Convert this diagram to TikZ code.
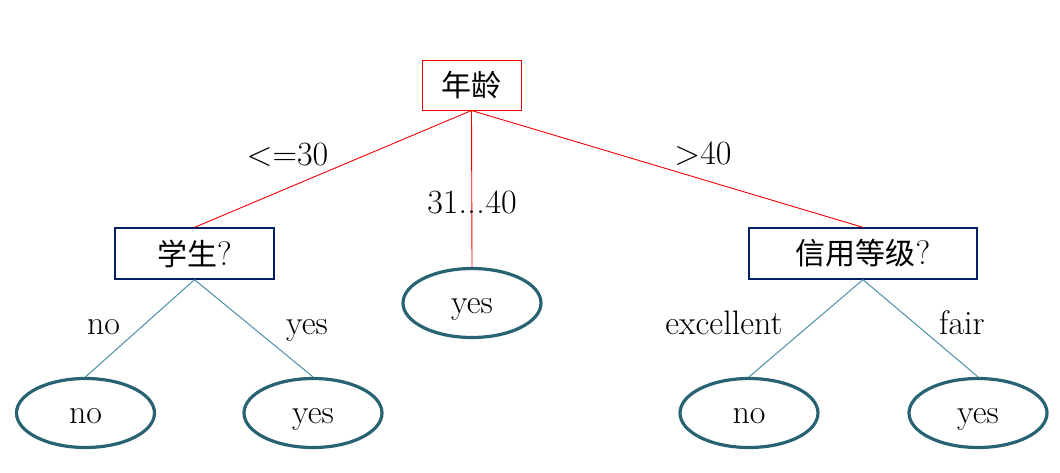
\documentclass[tikz,border=0pt]{standalone}
\usepackage{fontspec}
\newfontfamily\cjk{Noto Sans CJK SC}
\usetikzlibrary{shapes.geometric}
\definecolor{rootred}{RGB}{240,0,0}
\definecolor{navy}{RGB}{0,32,96}
\definecolor{tealline}{RGB}{75,143,168}
\definecolor{tealell}{RGB}{40,99,115}
\newcommand{\latinsize}{\fontsize{34}{34}\selectfont}
\newcommand{\cjksize}{\fontsize{30}{30}\selectfont}
\tikzset{
  x=1pt,y=-1pt,
  lbl/.style={font=\latinsize, inner sep=0pt, anchor=base},
  rootbox/.style={draw=rootred, line width=1pt, minimum width=99pt, minimum height=50pt, inner sep=0pt},
  qbox/.style={draw=navy, line width=1.3pt, minimum height=51pt, inner sep=0pt},
  leaf/.style={draw=tealell, ellipse, line width=3.2pt, minimum width=138pt, minimum height=69pt, inner sep=0pt, font=\latinsize, text height=21pt, text depth=0pt},
  redline/.style={draw=rootred, line width=0.9pt},
  tline/.style={draw=tealline, line width=1pt},
}
\begin{document}
\begin{tikzpicture}
\useasboundingbox (0,0) rectangle (1060,472);
\node[rootbox] (root) at (471.5,85) {\cjksize\cjk 年龄};
\node[qbox, minimum width=159pt] (stu) at (194.5,253.5) {{\cjksize\cjk 学生}{\latinsize ?}};
\node[qbox, minimum width=228pt] (cred) at (863,253.5) {{\cjksize\cjk 信用等级}{\latinsize ?}};
\node[leaf] (mid) at (472,303) {yes};
\node[leaf] (l1) at (85.5,413) {no};
\node[leaf] (l2) at (313,413) {yes};
\node[leaf] (l3) at (749,413) {no};
\node[leaf] (l4) at (978,413) {yes};
\draw[redline] (root.south) -- (stu.north);
\draw[redline] (root.south) -- (mid.north);
\draw[redline] (root.south) -- (cred.north);
\draw[tline] (stu.south) -- (l1.north);
\draw[tline] (stu.south) -- (l2.north);
\draw[tline] (cred.south) -- (l3.north);
\draw[tline] (cred.south) -- (l4.north);
\node[lbl] (t1) at (287.5,165) {<=30};
\node[lbl] (t2) at (472,213) {31.\kern0.5pt.\kern0.5pt.\kern0.5pt40};
\node[lbl] (t3) at (703,164) {>40};
\node[lbl] (t4) at (103.5,334) {no};
\node[lbl] (t5) at (307,334) {yes};
\node[lbl] (t6) at (724,334) {excellent};
\node[lbl] (t7) at (962,334) {fair};
\end{tikzpicture}
\end{document}
